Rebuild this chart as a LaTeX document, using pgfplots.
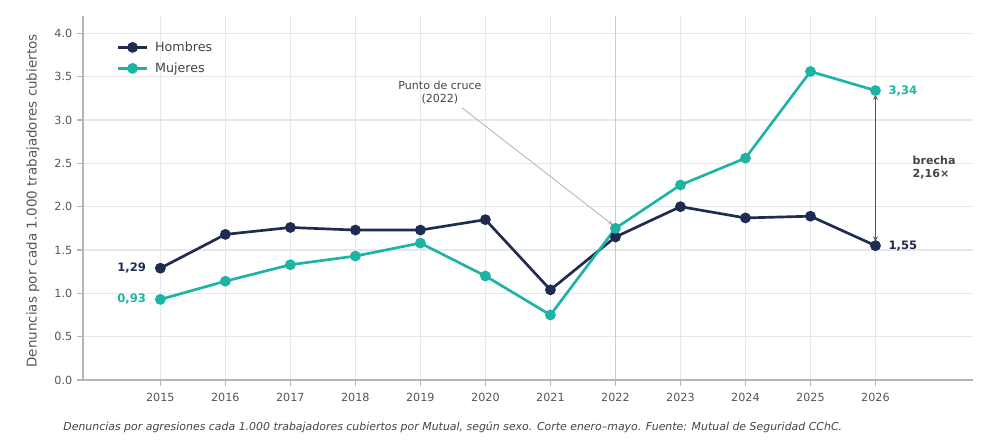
\documentclass[border=0pt]{standalone}
\usepackage{pgfplots}
\pgfplotsset{compat=1.18}
\usepackage{fontspec}
\setmainfont{DejaVu Sans}
\definecolor{navy}{HTML}{1F2B50}
\definecolor{teal2}{HTML}{1DB3A5}
\definecolor{gridc}{HTML}{E6E8EE}
\definecolor{spine}{HTML}{B5B5B5}
\definecolor{tickc}{HTML}{555555}
\definecolor{annc}{HTML}{444444}
\pgfplotstableread{
year h m
2015 1.29 0.93
2016 1.68 1.14
2017 1.76 1.33
2018 1.73 1.43
2019 1.73 1.58
2020 1.85 1.20
2021 1.04 0.75
2022 1.65 1.75
2023 2.00 2.25
2024 1.87 2.56
2025 1.89 3.56
2026 1.55 3.34
}\data
\begin{document}
\begin{tikzpicture}
\useasboundingbox (0,0) rectangle (750pt,332.25pt);
\begin{axis}[
  at={(62.25pt,47.25pt)}, anchor=south west,
  scale only axis, width=667.5pt, height=273pt,
  xmin=2013.81, xmax=2027.5, ymin=0, ymax=4.2,
  clip=false,
  axis x line*=bottom, axis y line*=left,
  axis line style={-, draw=spine, line width=0.9pt},
  xtick={2015,...,2026}, ytick={0,0.5,...,4.0},
  tick align=outside, major tick length=4.5pt,
  tick style={draw=spine, line width=0.9pt},
  grid=major, major grid style={draw=gridc, line width=0.9pt},
  /pgf/number format/assume math mode=true,
  xticklabel style={/pgf/number format/set thousands separator={}, font=\fontsize{8.4}{10}\selectfont, text=tickc, yshift=-2pt},
  yticklabel style={/pgf/number format/fixed, /pgf/number format/fixed zerofill, /pgf/number format/precision=1, font=\fontsize{8.4}{10}\selectfont, text=tickc},
  legend style={at={(0.033,0.945)}, anchor=north west, draw=none, fill=none,
     font=\fontsize{9.5}{11}\selectfont, text=annc, row sep=3pt,
     /tikz/every odd column/.append style={column sep=3pt}},
  legend cell align=left,
  legend image code/.code={\draw[mark repeat=2,mark phase=2] plot coordinates {(0cm,0cm) (0.385cm,0cm) (0.77cm,0cm)};},
]
\draw[draw=black!20, line width=0.9pt] (axis cs:2022,0) -- (axis cs:2022,4.2);
\addplot[navy, line width=2pt, mark=*, mark size=3pt, mark options={solid}] table[x=year,y=h]{\data};
\addlegendentry{Hombres}
\addplot[teal2, line width=2pt, mark=*, mark size=3pt, mark options={solid}] table[x=year,y=m]{\data};
\addlegendentry{Mujeres}
% annotations
\node[anchor=east, font=\bfseries\fontsize{8.7}{10}\selectfont, text=navy] at (axis cs:2014.85,1.29) {1,29};
\node[anchor=east, font=\bfseries\fontsize{8.7}{10}\selectfont, text=teal2] at (axis cs:2014.85,0.93) {0,93};
\node[anchor=west, font=\bfseries\fontsize{8.7}{10}\selectfont, text=teal2] at (axis cs:2026.13,3.34) {3,34};
\node[anchor=west, font=\bfseries\fontsize{8.7}{10}\selectfont, text=navy] at (axis cs:2026.13,1.55) {1,55};
\draw[<->, >=stealth, draw=black!65, line width=0.7pt] (axis cs:2026,3.29) -- (axis cs:2026,1.60);
\node[anchor=west, align=left, font=\bfseries\fontsize{8.3}{10}\selectfont, text=annc] at (axis cs:2026.5,2.45) {brecha\\2,16×};
\node[align=center, font=\fontsize{8.3}{9.8}\selectfont, text=annc] at (axis cs:2019.3,3.32) {Punto de cruce\\(2022)};
\draw[->, >=stealth, draw=black!30, line width=0.6pt] (axis cs:2019.64,3.14) -- (axis cs:2021.96,1.79);
\end{axis}
\node[rotate=90, font=\fontsize{10.1}{12}\selectfont, text=tickc] at (24.75pt,181.5pt) {Denuncias por cada 1.000 trabajadores cubiertos};
\node[anchor=west, font=\itshape\fontsize{8.2}{10}\selectfont, text=annc] at (44pt,12pt) {Denuncias por agresiones cada 1.000 trabajadores cubiertos por Mutual, según sexo. Corte enero–mayo. Fuente: Mutual de Seguridad CChC.};
\end{tikzpicture}
\end{document}
